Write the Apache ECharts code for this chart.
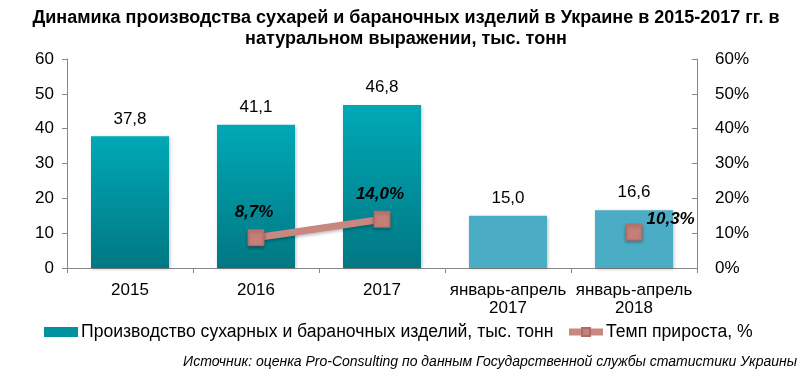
<!DOCTYPE html>
<html><head><meta charset="utf-8">
<script src="https://cdn.jsdelivr.net/npm/echarts@6/dist/echarts.min.js"></script>
<style>html,body{margin:0;padding:0;background:#fff}#c{width:812px;height:382px}</style>
</head><body><div id="c"></div>
<script>
var categories = ['2015', '2016', '2017', 'январь-апрель\n2017', 'январь-апрель\n2018'];
var production = [37.8, 41.1, 46.8, 15.0, 16.6];
var growth = [null, 8.7, 14.0, null, 10.3];
var leftTicks = [0, 10, 20, 30, 40, 50, 60];
var rightTicks = [0, 10, 20, 30, 40, 50, 60];

var FONT = 'Liberation Sans, Arial, sans-serif';
var FS = 17;
var grad = new echarts.graphic.LinearGradient(0, 0, 0, 1, [
  {offset: 0, color: '#00A8B6'}, {offset: 1, color: '#007883'}]);
var flat = '#4BACC6';

var growthData = growth.map(function (v, i) {
  if (i === 4) {
    return {value: v, label: {position: 'right', distance: 4, offset: [0, -13]}};
  }
  return v;
});

var chart = echarts.init(document.getElementById('c'));
chart.setOption({
  animation: false,
  textStyle: {fontFamily: FONT},
  title: {
    text: 'Динамика производства сухарей и бараночных изделий в Украине в 2015-2017 гг. в\nнатуральном выражении, тыс. тонн',
    left: 'center', top: 3,
    textStyle: {fontSize: 18, fontWeight: 'bold', color: '#000', lineHeight: 21, fontFamily: FONT, align: 'center'}
  },
  grid: {left: 67, right: 115, top: 59, bottom: 114},
  legend: {
    left: 39, top: 318, itemGap: 12, itemWidth: 34, itemHeight: 10,
    textStyle: {fontSize: 17.6, color: '#000', fontFamily: FONT, padding: [0, 0, 0, -2]},
    data: [
      {name: 'Производство сухарных и бараночных изделий, тыс. тонн', icon: 'rect', itemStyle: {color: '#00939F'}},
      {name: 'Темп прироста, %', itemStyle: {color: '#C47F78'}, lineStyle: {width: 7, color: '#C8877F'}}
    ]
  },
  graphic: [{
    type: 'text', right: 15, top: 355,
    style: {text: 'Источник: оценка Pro-Consulting по данным Государственной службы статистики Украины',
      font: 'italic 14px ' + FONT, fill: '#000'}
  }],
  xAxis: {
    type: 'category', data: categories,
    axisLine: {lineStyle: {color: '#888'}},
    axisTick: {show: true, alignWithLabel: false, length: 5, lineStyle: {color: '#888'}},
    axisLabel: {fontSize: FS, color: '#000', lineHeight: 18, margin: 13, interval: 0}
  },
  yAxis: [{
    type: 'value', min: 0, max: 60, interval: 10,
    axisLine: {show: true, lineStyle: {color: '#888'}},
    axisTick: {show: true, length: 5, lineStyle: {color: '#888'}},
    splitLine: {show: false},
    axisLabel: {fontSize: FS, color: '#000', margin: 13,
      formatter: function (v) { return leftTicks.indexOf(v) >= 0 ? String(v) : ''; }}
  }, {
    type: 'value', min: 0, max: 60, interval: 10,
    axisLine: {show: true, lineStyle: {color: '#888'}},
    axisTick: {show: true, inside: true, length: 5, lineStyle: {color: '#888'}},
    splitLine: {show: false},
    axisLabel: {fontSize: FS, color: '#000', margin: 18,
      formatter: function (v) { return rightTicks.indexOf(v) >= 0 ? v + '%' : ''; }}
  }],
  series: [{
    name: 'Производство сухарных и бараночных изделий, тыс. тонн',
    type: 'bar', barWidth: 78, yAxisIndex: 0,
    data: production.map(function (v, i) {
      return {value: v, itemStyle: {color: i < 3 ? grad : flat,
        shadowColor: 'rgba(0,0,0,0.25)', shadowBlur: 3, shadowOffsetX: 1, shadowOffsetY: 1}};
    }),
    label: {show: true, position: 'top', distance: 9, fontSize: FS, color: '#000',
      formatter: function (p) { return p.value.toFixed(1).replace('.', ','); }}
  }, {
    name: 'Темп прироста, %',
    type: 'line', yAxisIndex: 1, connectNulls: false,
    data: growthData,
    symbol: 'rect', symbolSize: 16,
    lineStyle: {color: '#C8877F', width: 7, shadowColor: 'rgba(0,0,0,0.25)', shadowBlur: 3, shadowOffsetY: 2},
    itemStyle: {color: '#C47F78', borderColor: '#B06A63', borderWidth: 1,
      shadowColor: 'rgba(0,0,0,0.3)', shadowBlur: 3, shadowOffsetY: 2},
    label: {show: true, fontSize: FS, fontWeight: 'bold', fontStyle: 'italic', color: '#000',
      formatter: function (p) { return p.value.toFixed(1).replace('.', ',') + '%'; },
      position: 'top', distance: 8, offset: [-2, 0]}
  }]
});
</script></body></html>
